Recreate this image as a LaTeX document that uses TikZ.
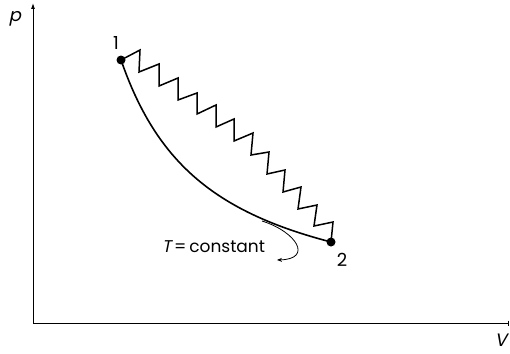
\documentclass[tikz,border=0pt]{standalone}
\usepackage{fontspec}
\setmainfont{Poppins}
\newfontfamily\slfont[FakeSlant=0.2]{Poppins}
\usetikzlibrary{arrows.meta}
\begin{document}
\begin{tikzpicture}[x=1pt,y=-1pt,
  axis/.style={line width=0.9pt},
  dot/.style={circle,fill=black,inner sep=0pt,minimum size=9pt},
  lbl/.style={inner sep=0pt,font=\fontsize{18}{20}\selectfont},
  iso/.style={line width=1.6pt},
  spring/.style={line width=1.5pt,line join=miter},
  pointer/.style={line width=0.8pt}]
\useasboundingbox (0,0) rectangle (510,353);
% axes
\coordinate (O) at (33,323);
\coordinate (ytop) at (33,3);
\coordinate (xend) at (509,323);
\draw[axis,-{Latex[length=6pt,width=4pt]}] (O) -- (ytop);
\draw[axis,-{Bar[width=5pt]}] (O) -- (xend);
\node[lbl] (plab) at (15,19) {\slfont p};
\node[lbl] (vlab) at (501,340) {\slfont V};
% states
\node[dot] (d1) at (121,60) {};
\node[dot] (d2) at (331,242) {};
\node[lbl] (n1) at (116,43) {1};
\node[lbl] (n2) at (342,260) {2};
% isotherm
\draw[iso] plot[domain=121:331,samples=80] (\x,{319.6-232.32/(0.01*(\x-31.5))});
% zigzag
\draw[spring] (d1.center) -- (140,50) -- (139,72) -- (159,64) -- (159,86)
  -- (178,78) -- (178,100) -- (197,93) -- (197,114) -- (216,105) -- (216,127)
  -- (234,119) -- (234,141) -- (253,133) -- (251,155) -- (269,152) -- (267,174)
  -- (285,170) -- (283,192) -- (301,187) -- (298,209) -- (317,205) -- (314,226)
  -- (333,222) -- (d2.center);
% label and pointer
\node[lbl,anchor=west,font=\fontsize{17}{19}\selectfont] (tc) at (162,247) {{\slfont T}\,=\,constant};
\coordinate (tp) at (277,260);
\draw[pointer,-{Stealth[length=5pt,width=4pt]}] (262,221) .. controls (297,232) and (313,259) .. (tp);
\end{tikzpicture}
\end{document}
